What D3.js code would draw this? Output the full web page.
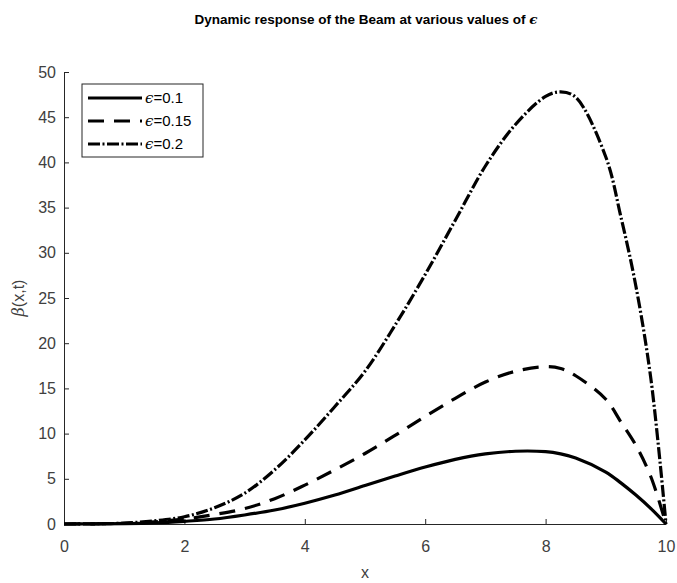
<!DOCTYPE html>
<html>
<head>
<meta charset="utf-8">
<script src="https://cdn.jsdelivr.net/npm/d3@7"></script>
<style>
  body { margin: 0; background: #fff; }
  svg text { font-family: "Liberation Sans", Arial, sans-serif; }
</style>
</head>
<body>
<svg id="chart" width="677" height="583"></svg>
<script>
// x positions along the beam
const xs = [0, 0.5, 1, 1.5, 2, 2.5, 3, 3.5, 4, 4.5, 5, 5.5, 6, 6.5, 7, 7.5, 8, 8.25, 8.5, 9, 9.25, 9.5, 9.75, 10]
// beta(x,t) for each epsilon
const eps01  = [0, 0.01, 0.04, 0.12, 0.3, 0.55, 1.0, 1.55, 2.3, 3.2, 4.25, 5.3, 6.3, 7.15, 7.75, 8.05, 8.0, 7.75, 7.3, 5.75, 4.55, 3.2, 1.7, 0]
const eps015 = [0, 0.02, 0.08, 0.25, 0.55, 1.05, 1.7, 2.8, 4.3, 6.0, 7.8, 9.8, 11.9, 13.9, 15.7, 16.9, 17.4, 17.2, 16.4, 13.8, 11.3, 8.7, 5.2, 0]
const eps02  = [0, 0.02, 0.1, 0.35, 0.8, 1.8, 3.4, 6.0, 9.3, 13.0, 16.9, 22.0, 27.6, 33.6, 39.6, 44.2, 47.3, 47.8, 47.2, 40.6, 34.0, 26.3, 16.0, 0]
const labels = ["0.1", "0.15", "0.2"]
const dashes = [null, "16,10", "12,2.5,2,2.5"]
const xTicks = [0, 2, 4, 6, 8, 10]
const yTicks = [0, 5, 10, 15, 20, 25, 30, 35, 40, 45, 50]

const series = [eps01, eps015, eps02].map((ys, i) => ({
    label: labels[i],
    dash: dashes[i],
    points: xs.map((x, j) => [x, ys[j]])
}))

let svg = d3.select("#chart")
let x = d3.scaleLinear().domain([0, 10]).range([64, 666])
let y = d3.scaleLinear().domain([0, 50]).range([524, 72])
const axisColor = "#262626"

// axes, ticks pointing inward like matlab
let xAxis = svg.append("g")
    .attr("transform", `translate(0,${y(0)})`)
    .call(d3.axisBottom(x).tickValues(xTicks).tickSizeInner(-5).tickSizeOuter(0).tickPadding(17))
let yAxis = svg.append("g")
    .attr("transform", `translate(${x(0)},0)`)
    .call(d3.axisLeft(y).tickValues(yTicks).tickSizeInner(-5).tickSizeOuter(0).tickPadding(8))
for (let ax of [xAxis, yAxis]) {
    ax.select(".domain").attr("stroke", axisColor)
    ax.selectAll(".tick line").attr("stroke", axisColor)
    ax.selectAll(".tick text")
        .attr("fill", "#404040")
        .style("font-size", "16px")
        .style("font-family", "\"Liberation Sans\", Arial, sans-serif")
}

let line = d3.line()
    .x(d => x(d[0]))
    .y(d => y(d[1]))
    .curve(d3.curveCatmullRom.alpha(0.5))

svg.append("g")
    .selectAll("path")
    .data(series)
    .join("path")
        .attr("fill", "none")
        .attr("stroke", "#000")
        .attr("stroke-width", 3.2)
        .attr("stroke-dasharray", d => d.dash)
        .attr("d", d => line(d.points))

// title and axis labels
let title = svg.append("text")
    .attr("x", 366)
    .attr("y", 24)
    .attr("text-anchor", "middle")
    .style("font-size", "13.5px")
    .style("font-weight", "bold")
    .attr("fill", "#000")
title.append("tspan").text("Dynamic response of the Beam at various values of ")
title.append("tspan").style("font-style", "italic").style("font-family", "\"DejaVu Serif\", serif").text("\u03f5")

svg.append("text")
    .attr("x", 365)
    .attr("y", 578)
    .attr("text-anchor", "middle")
    .attr("fill", "#404040")
    .style("font-size", "16px")
    .text("x")

let ylab = svg.append("text")
    .attr("transform", `translate(24,${(y(0) + y(50)) / 2}) rotate(-90)`)
    .attr("text-anchor", "middle")
    .attr("fill", "#404040")
    .style("font-size", "16px")
ylab.append("tspan").style("font-family", "\"DejaVu Serif\", serif").style("font-style", "italic").text("\u03b2")
ylab.append("tspan").text("(x,t)")

// legend
let legend = svg.append("g").attr("transform", "translate(82,84)")
legend.append("rect")
    .attr("width", 121)
    .attr("height", 73)
    .attr("fill", "#fff")
    .attr("stroke", axisColor)
    .attr("stroke-width", 1)
let items = legend.selectAll("g.item")
    .data(series)
    .join("g")
        .classed("item", true)
        .attr("transform", (d, i) => `translate(0,${14 + i * 23})`)
items.append("line")
    .attr("x1", 6)
    .attr("x2", 60)
    .attr("stroke", "#000")
    .attr("stroke-width", 3.2)
    .attr("stroke-dasharray", d => d.dash)
let itemText = items.append("text")
    .attr("x", 63)
    .attr("dy", "0.36em")
    .attr("fill", "#000")
    .style("font-size", "15px")
itemText.append("tspan").style("font-family", "\"DejaVu Serif\", serif").style("font-style", "italic").text("\u03f5")
itemText.append("tspan").text(d => "=" + d.label)
</script>
</body>
</html>
